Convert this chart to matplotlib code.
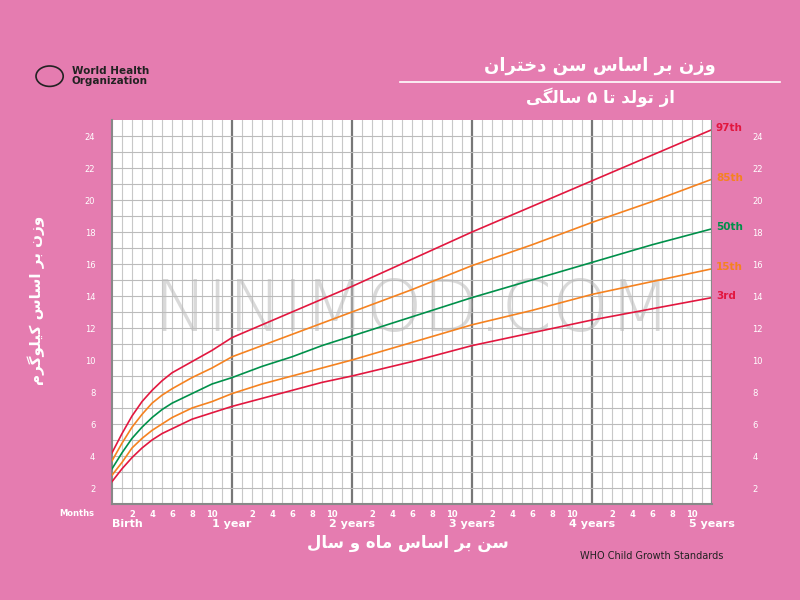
import matplotlib.pyplot as plt
import matplotlib.patches as mpatches

# ── Data ──────────────────────────────────────────────────────────────────────
months = [0, 1, 2, 3, 4, 5, 6, 8, 10, 12, 15, 18, 21, 24, 30, 36, 42, 48, 54, 60]
p3 = [2.4, 3.2, 3.9, 4.5, 5.0, 5.4, 5.7, 6.3, 6.7, 7.1, 7.6, 8.1, 8.6, 9.0, 9.9, 10.9, 11.7, 12.5, 13.2, 13.9]
p15 = [2.8, 3.6, 4.5, 5.1, 5.6, 6.0, 6.4, 7.0, 7.4, 7.9, 8.5, 9.0, 9.5, 10.0, 11.1, 12.2, 13.1, 14.1, 14.9, 15.7]
p50 = [3.2, 4.2, 5.1, 5.8, 6.4, 6.9, 7.3, 7.9, 8.5, 8.9, 9.6, 10.2, 10.9, 11.5, 12.7, 13.9, 15.0, 16.1, 17.2, 18.2]
p85 = [3.7, 4.8, 5.8, 6.6, 7.3, 7.8, 8.2, 8.9, 9.5, 10.2, 10.9, 11.6, 12.3, 13.0, 14.4, 15.9, 17.2, 18.6, 19.9, 21.3]
p97 = [4.2, 5.4, 6.5, 7.4, 8.1, 8.7, 9.2, 9.9, 10.6, 11.4, 12.2, 13.0, 13.8, 14.6, 16.3, 18.0, 19.6, 21.2, 22.8, 24.4]
labels = ["3rd", "15th", "50th", "85th", "97th"]
year_labels = ["Birth", "1 year", "2 years", "3 years", "4 years", "5 years"]

title_fa = "وزن بر اساس سن دختران"
subtitle_fa = "از تولد تا ۵ سالگی"
ylabel_fa = "وزن بر اساس کیلوگرم"
xlabel_fa = "سن بر اساس ماه و سال"

# ── Minimal Arabic/Persian shaping (matplotlib has none) ─────────────────────
FORMS = {  # isolated, final, initial, medial
    "ا": ("\uFE8D", "\uFE8E", None, None), "د": ("\uFEA9", "\uFEAA", None, None),
    "ر": ("\uFEAD", "\uFEAE", None, None), "ز": ("\uFEAF", "\uFEB0", None, None),
    "و": ("\uFEED", "\uFEEE", None, None),
    "ب": ("\uFE8F", "\uFE90", "\uFE91", "\uFE92"), "ت": ("\uFE95", "\uFE96", "\uFE97", "\uFE98"),
    "خ": ("\uFEA5", "\uFEA6", "\uFEA7", "\uFEA8"), "س": ("\uFEB1", "\uFEB2", "\uFEB3", "\uFEB4"),
    "ل": ("\uFEDD", "\uFEDE", "\uFEDF", "\uFEE0"), "م": ("\uFEE1", "\uFEE2", "\uFEE3", "\uFEE4"),
    "ن": ("\uFEE5", "\uFEE6", "\uFEE7", "\uFEE8"), "ه": ("\uFEE9", "\uFEEA", "\uFEEB", "\uFEEC"),
    "ک": ("\uFB8E", "\uFB8F", "\uFB90", "\uFB91"), "گ": ("\uFB92", "\uFB93", "\uFB94", "\uFB95"),
    "ی": ("\uFBFC", "\uFBFD", "\uFBFE", "\uFBFF"),
}


def shape(s):
    out = []
    for i, ch in enumerate(s):
        if ch not in FORMS:
            out.append(ch)
            continue
        prev = s[i - 1] if i > 0 else ""
        nxt = s[i + 1] if i + 1 < len(s) else ""
        join_prev = prev in FORMS and FORMS[prev][2] is not None
        join_next = nxt in FORMS and FORMS[ch][2] is not None
        iso, fin, ini, med = FORMS[ch]
        if join_prev and join_next:
            out.append(med)
        elif join_prev:
            out.append(fin)
        elif join_next:
            out.append(ini)
        else:
            out.append(iso)
    return "".join(out)[::-1]


# ── Colours ───────────────────────────────────────────────────────────────────
pink = "#E57CB0"
red, orange, green = "#E2173F", "#F58220", "#00904A"
colors = [red, orange, green, orange, red]

fig = plt.figure(figsize=(8, 6), dpi=100, facecolor=pink)
ax = fig.add_axes([0.14, 0.16, 0.75, 0.64])
ax.set_facecolor("white")
ax.set_xlim(0, 60)
ax.set_ylim(1, 25)

# grid
for m in range(1, 60):
    if m % 12 == 0:
        ax.axvline(m, color="#777777", lw=1.6, zorder=1)
    else:
        ax.axvline(m, color="#C8C8C8", lw=0.8, zorder=1)
for kg in range(2, 25):
    ax.axhline(kg, color="#BBBBBB", lw=0.8, zorder=1)

ax.text(30, 13, "NINIMOD.COM", fontsize=52, color="#BBBBBB", alpha=0.55,
        ha="center", va="center", zorder=2, fontweight="light")

series = [p3, p15, p50, p85, p97]
for vals, c, lab in zip(series, colors, labels):
    ax.plot(months, vals, color=c, lw=1.2, zorder=3)
    ax.text(60.4, vals[-1] + 0.1, lab, color=c, fontsize=7.5, fontweight="bold",
            ha="left", va="center", clip_on=False)

for sp in ["top", "right"]:
    ax.spines[sp].set_visible(False)
for sp in ["left", "bottom"]:
    ax.spines[sp].set_color("#888888")
    ax.spines[sp].set_linewidth(1.5)
ax.axvline(60, color="#888888", lw=1.6, zorder=4)

yt = list(range(2, 25, 2))
ax.set_yticks(yt)
ax.set_yticklabels([str(v) for v in yt], fontsize=6, color="white")
ax.tick_params(axis="y", length=0, pad=12)
axr = ax.twinx()
axr.set_ylim(ax.get_ylim())
axr.set_yticks(yt)
axr.set_yticklabels([str(v) for v in yt], fontsize=6, color="white")
axr.tick_params(axis="y", length=0, pad=29)
for sp in axr.spines.values():
    sp.set_visible(False)

ax.set_xticks([m for m in range(2, 60, 2) if m % 12 != 0])
ax.set_xticklabels([str(m % 12) for m in range(2, 60, 2) if m % 12 != 0],
                   fontsize=6, color="white", fontweight="bold")
ax.tick_params(axis="x", length=0, pad=4)
ax.text(-3.5, 0.7, "Months", fontsize=6, color="white", fontweight="bold",
        ha="center", va="top")
for i, lab in enumerate(year_labels):
    ax.text(i * 12, 0.05, lab, fontsize=8, color="white", fontweight="bold",
            ha="left" if i == 0 else "center", va="top")

# titles and labels
fig.text(0.75, 0.89, shape(title_fa), fontsize=13, fontweight="bold",
         color="white", ha="center", va="center")
fig.add_artist(plt.Line2D([0.5, 0.975], [0.863, 0.863], color="white", lw=1.2))
fig.text(0.75, 0.838, shape(subtitle_fa), fontsize=12, fontweight="bold",
         color="white", ha="center", va="center")
fig.text(0.045, 0.5, shape(ylabel_fa), fontsize=11, fontweight="bold",
         color="white", ha="center", va="center", rotation=90)
fig.text(0.51, 0.095, shape(xlabel_fa), fontsize=12, fontweight="bold",
         color="white", ha="center", va="center")
fig.text(0.815, 0.073, "WHO Child Growth Standards", fontsize=7,
         color="#222222", ha="center", va="center")

# WHO logo stand-in
fig.add_artist(mpatches.Circle((0.062, 0.873), 0.017, transform=fig.transFigure,
                               facecolor="none", edgecolor="#222222", lw=1.2))
fig.text(0.09, 0.873, "World Health\nOrganization", fontsize=7.5,
         fontweight="bold", color="#222222", ha="left", va="center",
         linespacing=0.95)

fig.savefig("out.png", dpi=100, facecolor=pink)
